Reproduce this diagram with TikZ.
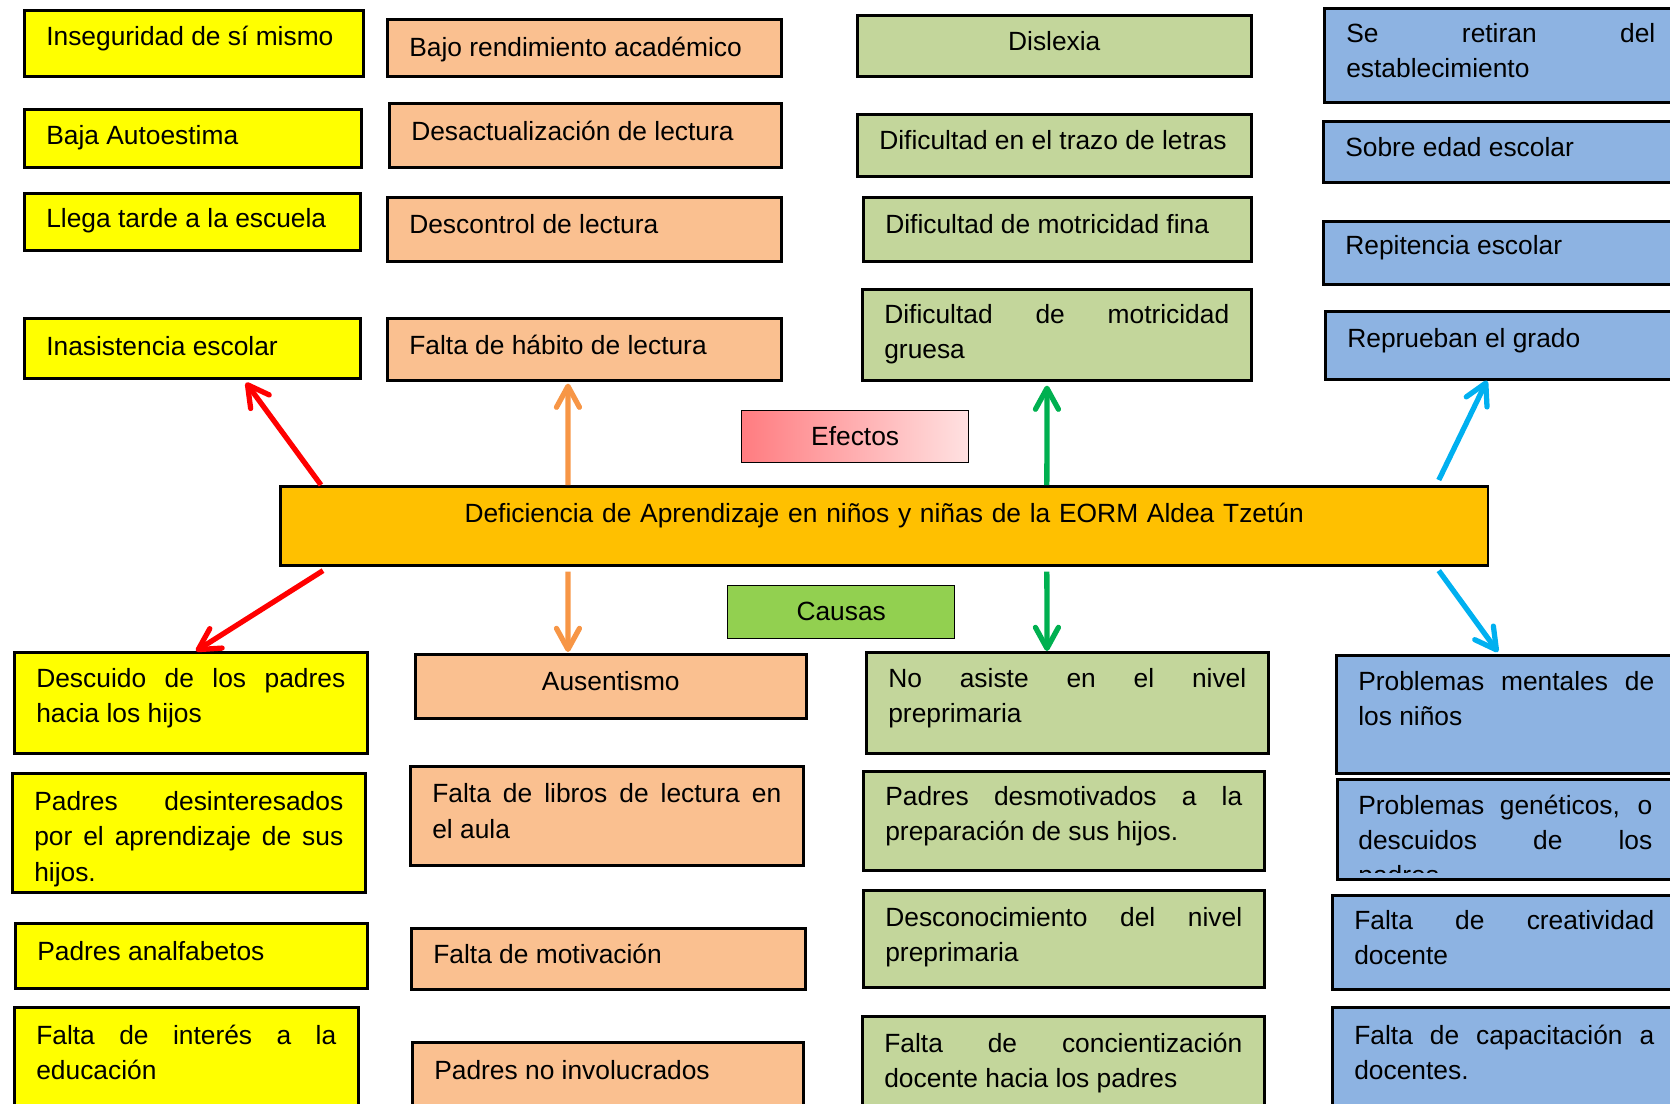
\documentclass[tikz,border=0pt]{standalone}
\usepackage{fontspec}
\setmainfont{Liberation Sans}
\usetikzlibrary{arrows.meta}

\definecolor{amarillo}{HTML}{FFFF00}
\definecolor{salmon}{HTML}{FAC090}
\definecolor{oliva}{HTML}{C3D69B}
\definecolor{celeste}{HTML}{8DB3E2}
\definecolor{ambar}{HTML}{FFC000}
\definecolor{verdeclaro}{HTML}{92D050}
\definecolor{rosa}{HTML}{FF7C80}
\definecolor{rosaclaro}{HTML}{FFE1E1}
\definecolor{naranjaf}{HTML}{F79646}
\definecolor{verdef}{HTML}{00B050}
\definecolor{azulf}{HTML}{00B0F0}

\hyphenpenalty=10000
\exhyphenpenalty=10000
\newcommand{\cajafin}{\par\kern0.19cm}

\begin{document}
\begin{tikzpicture}[
  x=0.02cm, y=-0.02cm,
  every node/.style={font=\fontsize{15}{20}\selectfont},
  caja/.style 2 args={rectangle, draw, line width=1.5pt, anchor=north west,
    inner xsep=0.44cm, inner ysep=0pt, align=justify,
    minimum width=#1, minimum height=#2, text width=#1-0.88cm,
    execute at end node={\cajafin}},
  amarilla/.style={fill=amarillo},
  naranja/.style={fill=salmon},
  verde/.style={fill=oliva},
  azul/.style={fill=celeste},
  flecha/.style={line width=3pt, -{Straight Barb[round, length=0.42cm, width=0.46cm]}}
]
\useasboundingbox (0,0) rectangle (1670,1103);
\clip (0,0) rectangle (1670,1103);

% Efectos - columna amarilla
\node[caja={6.78cm}{1.32cm}, amarilla] (in1) at (23,9) {Inseguridad de sí mismo};
\node[caja={6.74cm}{1.16cm}, amarilla, text height=0.4cm, text depth=0.17cm] (in2) at (23,108) {Baja Autoestima};
\node[caja={6.72cm}{1.14cm}, amarilla, text height=0.4cm, text depth=0.19cm] (in3) at (23,192) {Llega tarde a la escuela};
\node[caja={6.72cm}{1.20cm}, amarilla, text height=0.4cm, text depth=0.12cm] (in4) at (23,317) {Inasistencia escolar};

% Efectos - columna naranja
\node[caja={7.88cm}{1.14cm}, naranja, text height=0.4cm, text depth=0.05cm] (bj1) at (386,18) {Bajo rendimiento académico};
\node[caja={7.84cm}{1.28cm}, naranja] (bj2) at (388,102) {Desactualización de lectura};
\node[caja={7.88cm}{1.28cm}, naranja] (bj3) at (386,196) {Descontrol de lectura};
\node[caja={7.88cm}{1.24cm}, naranja] (bj4) at (386,317) {Falta de hábito de lectura};

% Efectos - columna verde
\node[caja={7.88cm}{1.22cm}, verde, align=center] (dx1) at (856,14) {Dislexia};
\node[caja={7.88cm}{1.24cm}, verde] (dx2) at (856,113) {Dificultad en el trazo de letras};
\node[caja={7.76cm}{1.28cm}, verde] (dx3) at (862,196) {Dificultad de motricidad fina};
\node[caja={7.78cm}{1.82cm}, verde, text height=0.4cm, text depth=0.87cm] (dx4) at (861,288) {Dificultad de motricidad\linebreak gruesa};

% Efectos - columna azul
\node[caja={7.06cm}{1.88cm}, azul] (sr1) at (1323,7) {Se retiran del\linebreak establecimiento};
\node[caja={7.08cm}{1.22cm}, azul] (sr2) at (1322,120) {Sobre edad escolar};
\node[caja={7.08cm}{1.26cm}, azul] (sr3) at (1322,220) {Repitencia escolar};
\node[caja={7.04cm}{1.36cm}, azul] (sr4) at (1324,310) {Reprueban el grado};

% Titulos y problema central
\node[caja={4.54cm}{1.04cm}, line width=0.8pt, align=center, left color=rosa, right color=rosaclaro, text height=0.4cm, text depth=0.04cm] (ef) at (741,410) {Efectos};
\node[caja={24.16cm}{1.58cm}, fill=ambar, align=center, text height=0.4cm, text depth=0.52cm] (ctr) at (279,485) {Deficiencia de Aprendizaje en niños y niñas de la EORM Aldea Tzetún};
\node[caja={4.54cm}{1.06cm}, line width=0.8pt, fill=verdeclaro, align=center, text height=0.4cm, text depth=0.07cm] (ca) at (727,585) {Causas};

% Causas - columna amarilla
\node[caja={7.06cm}{2.02cm}, amarilla] (ds1) at (13,651) {Descuido de los padres\linebreak hacia los hijos};
\node[caja={7.06cm}{2.38cm}, amarilla, text height=0.4cm, text depth=1.28cm] (ds2) at (11,772) {Padres desinteresados\linebreak por el aprendizaje de sus\linebreak hijos.};
\node[caja={7.04cm}{1.30cm}, amarilla] (ds3) at (14,922) {Padres analfabetos};
\node[caja={6.88cm}{2.00cm}, amarilla] (ds4) at (13,1006) {Falta de interés a la\linebreak educación};

% Causas - columna naranja
\node[caja={7.82cm}{1.28cm}, naranja, align=center] (au1) at (414,653) {Ausentismo};
\node[caja={7.86cm}{1.98cm}, naranja] (au2) at (409,765) {Falta de libros de lectura en\linebreak el aula};
\node[caja={7.88cm}{1.22cm}, naranja] (au3) at (410,927) {Falta de motivación};
\node[caja={7.82cm}{1.30cm}, naranja] (au4) at (411,1041) {Padres no involucrados};

% Causas - columna verde
\node[caja={8.04cm}{2.02cm}, verde] (na1) at (865,651) {No asiste en el nivel\linebreak preprimaria};
\node[caja={8.02cm}{1.98cm}, verde] (na2) at (862,770) {Padres desmotivados a la\linebreak preparación de sus hijos.};
\node[caja={8.02cm}{1.94cm}, verde, text height=0.4cm, text depth=0.88cm] (na3) at (862,889) {Desconocimiento del nivel\linebreak preprimaria};
\node[caja={8.04cm}{1.88cm}, verde, text height=0.4cm, text depth=0.82cm] (na4) at (861,1015) {Falta de concientización\linebreak docente hacia los padres};

% Causas - columna azul
\node[caja={6.80cm}{2.36cm}, azul, text height=0.4cm, text depth=1.34cm] (pm1) at (1335,654) {Problemas mentales de\linebreak los niños};
\node[caja={6.78cm}{2.00cm}, azul] (pm2) at (1336,778) {};
\begin{scope}
  \clip (pm2.north west) rectangle ([yshift=0.16cm]pm2.south east);
  \node[anchor=base west, inner sep=0pt, text width=5.88cm, align=justify] (pm2t) at (1358,814) {Problemas genéticos, o\linebreak descuidos de los\linebreak padres};
\end{scope}
\node[caja={6.88cm}{1.88cm}, azul] (pm3) at (1331,894) {Falta de creatividad\linebreak docente};
\node[caja={6.88cm}{2.00cm}, azul] (pm4) at (1331,1006) {Falta de capacitación a\linebreak docentes.};

% Flechas
\draw[flecha, red] ([xshift=0.84cm]ctr.north west) -- ([xshift=4.46cm, yshift=-0.06cm]in4.south west);
\draw[flecha, red] ([xshift=0.88cm, yshift=-0.08cm]ctr.south west) -- ([xshift=3.66cm]ds1.north west);
\draw[flecha, naranjaf] ([xshift=5.78cm]ctr.north west) -- ([xshift=3.64cm, yshift=-0.04cm]bj4.south west);
\draw[flecha, naranjaf] ([xshift=5.78cm, yshift=-0.1cm]ctr.south west) -- ([xshift=3.08cm, yshift=0.02cm]au1.north west);
\draw[flecha, verdef] ([xshift=15.36cm]ctr.north west) -- ([xshift=3.72cm, yshift=-0.08cm]dx4.south west);
\draw[flecha, verdef] ([xshift=15.36cm, yshift=-0.1cm]ctr.south west) -- ([xshift=3.64cm]na1.north west);
\draw[flecha, azulf] ([xshift=23.2cm, yshift=0.1cm]ctr.north west) -- ([xshift=3.26cm]sr4.south west);
\draw[flecha, azulf] ([xshift=23.2cm, yshift=-0.08cm]ctr.south west) -- ([xshift=3.26cm, yshift=0.04cm]pm1.north west);

\end{tikzpicture}
\end{document}
